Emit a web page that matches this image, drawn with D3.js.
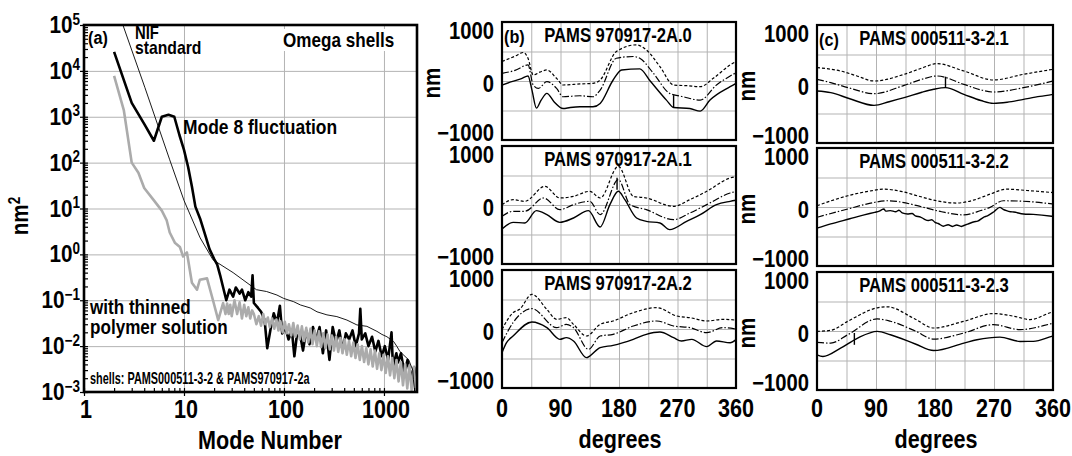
<!DOCTYPE html>
<html>
<head>
<meta charset="utf-8">
<title>Omega shells</title>
<script src="https://cdn.jsdelivr.net/npm/d3@7/dist/d3.min.js"></script>
<style>
  body { margin: 0; background: #fff; }
  #canvas svg { display: block; }
  text { font-family: 'Liberation Sans', Arial, Helvetica, sans-serif; font-weight: bold; fill: #000; }
</style>
</head>
<body>
<div id="canvas"></div>
<script>
/**
 * Omega shells: mode spectra (a) and surface traces (b), (c)
 */

// Panel (a) spectra: [mode number, nm^2]
var nifStandard = [
	[2.45, 1e5], [4.07, 4.3e3], [7.2, 115], [10, 15], [14.5, 2.3], [19.5, 0.76], [31, 0.4],
	[53, 0.17], [67, 0.155], [85, 0.13], [99, 0.11], [125, 0.093], [146, 0.079], [183, 0.068],
	[214, 0.056], [269, 0.048], [338, 0.044], [426, 0.037], [536, 0.029], [675, 0.027],
	[850, 0.021], [954, 0.018], [1071, 0.016], [1249, 0.0126], [1349, 0.0098], [1445, 0.0076],
	[1770, 0.005], [1940, 0.003], [1970, 0.0019], [2030, 0.001]
];
var mode8Fluctuation = [
	[2, 2.6e4], [3, 2e3], [4, 7e2], [5, 3e2], [6, 1e3], [7, 1.1e3], [8, 1e3], [9, 4e2], [10, 1.9e2],
	[11, 80], [12, 30], [13, 11], [14.5, 6], [16, 3], [18, 1.3], [20, 0.8], [21.5, 0.6], [23, 0.35],
	[24.5, 0.2], [26.5, 0.1], [28.5, 0.17], [31, 0.12], [33, 0.19], [36, 0.14], [38, 0.17], [41, 0.1],
	[44, 0.15], [47, 0.12], [48.5, 0.35], [50, 0.087], [55, 0.068], [59, 0.056], [64, 0.037],
	[68, 0.009], [73, 0.022], [79, 0.052], [85, 0.032], [91, 0.076], [96, 0.019], [103, 0.026],
	[111, 0.014], [120, 0.022], [127, 0.006], [134, 0.016], [144, 0.019], [155, 0.008], [167, 0.022],
	[180, 0.011], [195, 0.026], [210, 0.014], [227, 0.026], [245, 0.007], [264, 0.022], [285, 0.005],
	[307, 0.026], [332, 0.012], [358, 0.022], [386, 0.008], [416, 0.019], [449, 0.014], [485, 0.022],
	[522, 0.01], [563, 0.019], [580, 0.065], [600, 0.014], [650, 0.019], [700, 0.01], [760, 0.016],
	[820, 0.0076], [880, 0.013], [950, 0.006], [1020, 0.01], [1100, 0.005], [1190, 0.02],
	[1230, 0.0035], [1330, 0.007], [1380, 0.0044], [1480, 0.007], [1600, 0.0026], [1720, 0.005],
	[1850, 0.0021], [2000, 0.0035], [2100, 0.0015]
];
var thinnedPolymer = [
	[2, 7.8e3], [2.5, 1.4e3], [3, 1e2], [3.5, 60], [4, 28], [5, 15], [6, 9], [6.7, 5.6], [7.2, 3],
	[8.1, 1.8], [9.1, 1.45], [9.8, 0.9], [10.7, 1.1], [12, 0.24], [13.5, 0.17], [14.4, 0.28],
	[17, 0.3], [19.5, 0.1], [22, 0.037], [24.6, 0.087], [26, 0.05], [27, 0.085], [28, 0.05],
	[29, 0.08], [30, 0.045], [32, 0.1], [34, 0.05], [36, 0.09], [38, 0.04], [40, 0.08], [42, 0.045],
	[44, 0.07], [46, 0.04], [48, 0.06], [50, 0.05], [53, 0.03], [56, 0.045], [59, 0.028], [62, 0.05],
	[65, 0.03], [69, 0.042], [72, 0.026], [76, 0.04], [80, 0.024], [84, 0.038], [88, 0.022],
	[92, 0.035], [97, 0.02], [102, 0.034], [107, 0.019], [112, 0.03], [118, 0.017], [124, 0.032],
	[130, 0.016], [137, 0.028], [144, 0.014], [151, 0.027], [159, 0.013], [167, 0.025], [175, 0.012],
	[184, 0.024], [193, 0.011], [203, 0.022], [213, 0.01], [224, 0.021], [235, 0.0095], [247, 0.019],
	[260, 0.009], [273, 0.018], [287, 0.0085], [301, 0.017], [316, 0.008], [332, 0.016], [349, 0.0075],
	[367, 0.015], [385, 0.007], [405, 0.014], [425, 0.0065], [447, 0.013], [470, 0.006], [494, 0.012],
	[519, 0.0055], [545, 0.011], [573, 0.005], [602, 0.01], [633, 0.0045], [665, 0.009], [699, 0.004],
	[735, 0.0085], [772, 0.0036], [812, 0.008], [853, 0.0032], [897, 0.007], [943, 0.003],
	[991, 0.0065], [1040, 0.0026], [1095, 0.006], [1150, 0.0023], [1210, 0.0055], [1270, 0.002],
	[1335, 0.005], [1400, 0.0017], [1475, 0.0045], [1550, 0.0014], [1630, 0.004], [1710, 0.0012],
	[1800, 0.0038], [1890, 0.0011], [1990, 0.0035], [2090, 0.001]
];

// Tick labels
var modeTicks = [1, 10, 100, 1000];
var powerExponents = [-3, -2, -1, 0, 1, 2, 3, 4, 5];
var degreeTicks = [0, 90, 180, 270, 360];
var nmTicks = [-1000, 0, 1000];

// Panel (b), (c) titles
var titlesB = ['PAMS 970917-2A.0', 'PAMS 970917-2A.1', 'PAMS 970917-2A.2'];
var titlesC = ['PAMS 000511-3-2.1', 'PAMS 000511-3-2.2', 'PAMS 000511-3-2.3'];

// Traces: [degrees, nm]  (solid, dash-dot, dashed)
var b0Solid = [[0,-70],[15,-10],[30,40],[40,85],[46,-150],[53,-460],[60,-330],[69,-210],[80,-350],[94,-466],[105,-449],[120,-437],[140,-437],[151,-380],[171,17],[184,187],[212,205],[228,0],[253,-324],[264,-449],[289,-466],[305,-511],[320,-324],[351,-97],[360,-40]];
var b0DashDot = [[0,130],[20,180],[40,272],[48,-68],[56,-125],[69,-11],[84,-125],[94,-267],[120,-250],[140,-267],[151,-153],[176,386],[202,415],[212,386],[233,130],[258,-210],[279,-267],[305,-324],[330,-68],[351,85],[360,140]];
var b0Dashed = [[0,330],[20,420],[33,483],[40,386],[48,102],[58,150],[69,187],[84,45],[94,-68],[120,-50],[140,-40],[151,17],[176,500],[207,613],[222,528],[243,244],[264,-68],[285,-80],[305,-97],[325,45],[351,272],[360,330]];

var b1Solid = [[0,-407],[17,-294],[35,-305],[53,-96],[69,-164],[89,-294],[110,-220],[133,-96],[151,-373],[166,6],[179,232],[189,90],[207,-220],[222,-277],[243,-305],[258,-418],[284,-277],[305,-164],[330,6],[351,62],[360,80]];
var b1DashDot = [[0,-192],[17,-107],[35,-107],[64,119],[89,-79],[110,6],[135,62],[151,-164],[179,430],[197,6],[222,-79],[264,-249],[289,-136],[315,6],[351,203],[360,230]];
var b1Dashed = [[0,6],[17,90],[35,62],[66,316],[89,119],[110,147],[135,232],[151,119],[179,655],[202,147],[222,119],[264,-23],[289,90],[315,232],[351,458],[360,480]];

var b2Solid = [[0,-401],[7,-232],[17,-119],[46,119],[69,23],[89,-175],[99,-147],[110,-203],[130,-486],[135,-458],[151,-316],[171,-277],[202,-175],[222,-90],[243,-51],[264,-147],[276,-203],[292,-175],[315,-299],[330,-203],[351,-232],[360,-180]];
var b2DashDot = [[0,-232],[17,107],[46,345],[84,23],[99,79],[110,23],[133,-345],[151,-119],[171,-90],[202,51],[238,136],[264,51],[289,23],[315,-62],[340,23],[360,0]];
var b2Dashed = [[0,-6],[17,277],[27,333],[46,588],[69,333],[84,164],[99,192],[110,79],[130,-119],[151,79],[171,136],[202,277],[238,362],[269,220],[289,192],[315,136],[340,164],[360,150]];

var c1Solid = [[0,-119],[21,-147],[50,-250],[87,-362],[110,-300],[133,-232],[160,-140],[178,-90],[196,-62],[224,-175],[250,-280],[269,-328],[290,-310],[315,-260],[340,-210],[360,-175]];
var c1DashDot = [[0,79],[21,23],[50,-70],[87,-164],[133,-23],[160,80],[183,136],[224,-6],[250,-100],[269,-136],[315,-62],[360,51]];
var c1Dashed = [[0,277],[36,220],[60,140],[87,51],[133,164],[160,270],[183,345],[224,220],[269,68],[315,164],[360,249]];

var c2Solid = [[0,-358],[21,-286],[50,-200],[72,-134],[88,-90],[95,-70],[100,-40],[102,-34],[105,-70],[112,-62],[120,-80],[125,-55],[130,-100],[138,-118],[145,-110],[150,-150],[158,-170],[163,-202],[170,-230],[175,-215],[180,-260],[185,-280],[193,-325],[200,-300],[207,-330],[213,-305],[220,-330],[224,-314],[230,-290],[240,-250],[245,-240],[254,-174],[260,-150],[270,-80],[279,-6],[284,-40],[289,-62],[295,-80],[300,-85],[315,-118],[330,-125],[358,-157],[360,-160]];
var c2DashDot = [[0,-174],[47,-34],[80,60],[108,106],[130,80],[153,22],[190,-80],[224,-134],[250,-60],[264,-6],[284,106],[325,90],[360,50]];
var c2Dashed = [[0,22],[47,190],[80,270],[102,302],[130,260],[153,190],[185,100],[213,67],[240,120],[264,218],[289,302],[320,280],[360,244]];

var c3Solid = [[0,-405],[9,-433],[36,-291],[62,-120],[92,-6],[112,-63],[150,-220],[178,-331],[224,-205],[244,-148],[279,-103],[310,-177],[330,-175],[358,-91],[360,-85]];
var c3DashDot = [[0,-194],[21,-205],[47,-63],[92,205],[112,165],[150,0],[178,-137],[224,-34],[269,108],[310,23],[358,125],[360,130]];
var c3Dashed = [[0,-6],[21,11],[47,165],[92,393],[107,410],[150,200],[178,51],[224,165],[269,296],[300,251],[325,194],[358,319],[360,325]];

// Short spikes: [degrees, from nm, to nm]
var b0Spikes = [[264, -449, -240]];
var b1Spikes = [[177, 260, 460]];
var c1Spikes = [[196, -62, 124]];
var c3Spikes = [[57, -234, -34]];

// UI
var svg = d3.select('#canvas').append('svg').attr('width', 1072).attr('height', 456),
	gridColor = '#b3b3b3',
	thinnedColor = '#ababab',
	plotH = 118,
	traceDash = [null, '7,2,1.5,2', '3,2'];

// Text with a slightly condensed, tall look
function label(g, x, y, str, size, anchor, sx, rotate) {
	return g.append('text')
		.attr('transform', 'translate(' + x + ',' + y + ')' + (rotate ? ' rotate(' + rotate + ')' : '') + ' scale(' + (sx || 0.9) + ',1.06)')
		.attr('text-anchor', anchor || 'start')
		.style('font-size', size + 'px')
		.text(str);
}

function styleGrid(sel) {
	sel.select('.domain').remove();
	sel.selectAll('.tick line').attr('stroke', gridColor).attr('stroke-width', 1);
}

function styleTicks(sel) {
	sel.select('.domain').remove();
	sel.selectAll('.tick line').attr('stroke', '#000').attr('stroke-width', 1.2);
}

// ---- Panel (a) ----
var a = { left: 84, top: 25, right: 417, bottom: 392 },
	xA = d3.scaleLog().domain([1, 2140]).range([a.left, a.right]),
	yA = d3.scaleLog().domain([1e-3, 1e5]).range([a.bottom, a.top]),
	decades = powerExponents.map(function(e) { return Math.pow(10, e); }),
	gA = svg.append('g');

gA.append('g')
	.attr('transform', 'translate(0,' + a.bottom + ')')
	.call(d3.axisBottom(xA).tickValues(modeTicks.slice(1)).tickSize(-(a.bottom - a.top)).tickFormat(''))
	.call(styleGrid);
gA.append('g')
	.attr('transform', 'translate(' + a.left + ',0)')
	.call(d3.axisLeft(yA).tickValues(decades.slice(1, -1)).tickSize(-(a.right - a.left)).tickFormat(''))
	.call(styleGrid);

gA.append('clipPath').attr('id', 'clipA')
	.append('rect').attr('x', a.left).attr('y', a.top).attr('width', a.right - a.left).attr('height', a.bottom - a.top);

var lineA = d3.line()
	.x(function(d) { return xA(d[0]); })
	.y(function(d) { return yA(d[1]); });

var curvesA = gA.append('g').attr('clip-path', 'url(#clipA)');
curvesA.append('path').datum(mode8Fluctuation)
	.attr('d', lineA).attr('fill', 'none').attr('stroke', '#000').attr('stroke-width', 2.6).attr('stroke-linejoin', 'round');
curvesA.append('path').datum(thinnedPolymer)
	.attr('d', lineA).attr('fill', 'none').attr('stroke', thinnedColor).attr('stroke-width', 2.6).attr('stroke-linejoin', 'round');
curvesA.append('path').datum(nifStandard)
	.attr('d', lineA).attr('fill', 'none').attr('stroke', '#000').attr('stroke-width', 0.9);

// ticks
gA.append('g').attr('transform', 'translate(' + a.left + ',0)')
	.call(d3.axisRight(yA).tickValues(yA.ticks()).tickSize(4).tickFormat(''))
	.call(styleTicks);
gA.append('g').attr('transform', 'translate(' + a.left + ',0)')
	.call(d3.axisLeft(yA).tickValues(decades).tickSize(4).tickFormat(''))
	.call(styleTicks);
gA.append('g').attr('transform', 'translate(0,' + a.bottom + ')')
	.call(d3.axisTop(xA).tickValues(xA.ticks().filter(function(v) { return v <= 2140; })).tickSize(4).tickFormat(''))
	.call(styleTicks);
gA.append('g').attr('transform', 'translate(0,' + a.bottom + ')')
	.call(d3.axisBottom(xA).tickValues(modeTicks).tickSize(4).tickFormat(''))
	.call(styleTicks);

gA.append('rect')
	.attr('x', a.left).attr('y', a.top).attr('width', a.right - a.left).attr('height', a.bottom - a.top)
	.attr('fill', 'none').attr('stroke', '#000').attr('stroke-width', 2.6);

// y tick labels 10^n
powerExponents.forEach(function(e) {
	var t = label(gA, 80, yA(Math.pow(10, e)) + 8, '', 23, 'end');
	t.append('tspan').text('10');
	t.append('tspan').attr('dy', -8).style('font-size', '15px').text(String(e).replace('-', '\u2212'));
});
modeTicks.forEach(function(m) {
	label(gA, xA(m) + 2, 418, String(m), 24, 'middle');
});
label(gA, 270, 449, 'Mode Number', 24, 'middle');
var nmA = label(gA, 28, 216, '', 23, 'middle', 0.9, -90);
nmA.append('tspan').text('nm');
nmA.append('tspan').attr('dy', -8).style('font-size', '15px').text('2');

// annotations
gA.append('rect').attr('x', 280).attr('y', 29).attr('width', 116).attr('height', 22).attr('fill', '#fff');
label(gA, 88, 44, '(a)', 18);
label(gA, 135, 39, 'NIF', 16.5);
label(gA, 135, 54, 'standard', 17.5);
label(gA, 283, 47, 'Omega shells', 19);
label(gA, 183, 134, 'Mode 8 fluctuation', 19.4);
label(gA, 90, 314, 'with thinned', 19);
label(gA, 90, 334, 'polymer solution', 19);
label(gA, 90, 384, 'shells: PAMS000511-3-2 & PAMS970917-2a', 16, 'start', 0.68);

// ---- Panels (b) and (c) ----
function drawTraces(left, top, width, title, traces, spikes, opts) {
	var x = d3.scaleLinear().domain([0, 360]).range([left, left + width]),
		y = d3.scaleLinear().domain([-1000, 1000]).range([top + plotH, top]),
		g = svg.append('g'),
		line = d3.line()
			.curve(d3.curveMonotoneX)
			.x(function(d) { return x(d[0]); })
			.y(function(d) { return y(d[1]); });

	// grid
	g.append('g').attr('transform', 'translate(0,' + (top + plotH) + ')')
		.call(d3.axisBottom(x).tickValues(d3.range(45, 360, 45)).tickSize(-plotH).tickFormat(''))
		.call(styleGrid);
	g.append('g').attr('transform', 'translate(' + left + ',0)')
		.call(d3.axisLeft(y).tickValues([-500, 0, 500]).tickSize(-width).tickFormat(''))
		.call(styleGrid);

	// traces
	traces.forEach(function(tr, i) {
		g.append('path').datum(tr)
			.attr('d', line)
			.attr('fill', 'none')
			.attr('stroke', '#000')
			.attr('stroke-width', i === 0 ? 1.4 : 1.2)
			.attr('stroke-dasharray', traceDash[i]);
	});
	g.selectAll('line.spike')
		.data(spikes)
		.enter()
			.append('line')
			.attr('class', 'spike')
			.attr('x1', function(d) { return x(d[0]); })
			.attr('x2', function(d) { return x(d[0]); })
			.attr('y1', function(d) { return y(d[1]); })
			.attr('y2', function(d) { return y(d[2]); })
			.attr('stroke', '#000')
			.attr('stroke-width', 1.4);

	g.append('rect')
		.attr('x', left).attr('y', top).attr('width', width).attr('height', plotH)
		.attr('fill', 'none').attr('stroke', '#000').attr('stroke-width', 2.2);

	// title
	label(g, left + width / 2 - 1, top + 20, title, 18.5, 'middle');
	if (opts.tag) label(g, left + 2, top + 21, opts.tag, 18);

	// y labels
	label(g, left - 8, y(nmTicks[2]) + 17, String(nmTicks[2]), 22.5, 'end');
	label(g, left - 8, y(nmTicks[1]) + 11, String(nmTicks[1]), 22.5, 'end');
	label(g, left - 8, y(nmTicks[0]) + 1, String(nmTicks[0]).replace('-', '\u2212'), 22.5, 'end');
	if (opts.nm) label(g, left - 62, y(0) + 2, 'nm', 23, 'middle', 0.9, -90);

	// x labels
	if (opts.xAxis) {
		degreeTicks.forEach(function(d) {
			label(g, x(d), 417, String(d), 24, 'middle');
		});
		label(g, left + width / 2 + 1, 448, 'degrees', 24, 'middle');
	}
}

var topsB = [22, 146, 270],
	topsC = [25, 148, 272],
	tracesB = [[b0Solid, b0DashDot, b0Dashed], [b1Solid, b1DashDot, b1Dashed], [b2Solid, b2DashDot, b2Dashed]],
	tracesC = [[c1Solid, c1DashDot, c1Dashed], [c2Solid, c2DashDot, c2Dashed], [c3Solid, c3DashDot, c3Dashed]],
	spikesB = [b0Spikes, b1Spikes, []],
	spikesC = [c1Spikes, [], c3Spikes];

titlesB.forEach(function(t, i) {
	drawTraces(502, topsB[i], 234, t, tracesB[i], spikesB[i], { tag: i === 0 ? '(b)' : null, nm: i === 0, xAxis: i === 2 });
});
titlesC.forEach(function(t, i) {
	drawTraces(817, topsC[i], 236, t, tracesC[i], spikesC[i], { tag: i === 0 ? '(c)' : null, nm: true, xAxis: i === 2 });
});
</script>
</body>
</html>
